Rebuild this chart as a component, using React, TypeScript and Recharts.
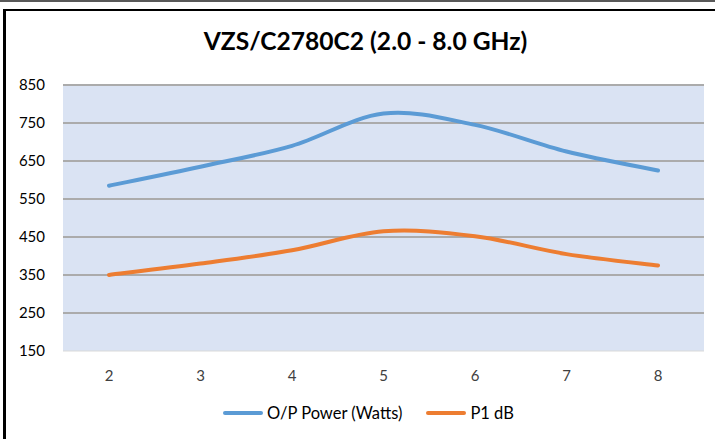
import { CartesianGrid, Line, LineChart, XAxis, YAxis } from "recharts";

const frequencies = [2, 3, 4, 5, 6, 7, 8];
const outputPower = [585, 635, 690, 775, 745, 675, 625];
const p1dB = [350, 380, 415, 465, 452, 405, 375];
const yTicks = [150, 250, 350, 450, 550, 650, 750, 850];

const SERIES = [
	{ key: "power", name: "O/P Power (Watts)", color: "#5B9BD5", values: outputPower },
	{ key: "p1db", name: "P1 dB", color: "#ED7D31", values: p1dB },
];

const FONT = "Lato, 'Open Sans', sans-serif";

// Excel-style smoothing: Catmull-Rom segments as cubic beziers
function excelSmooth(context: any) {
	let pts: number[][] = [];
	return {
		areaStart() {},
		areaEnd() {},
		lineStart() {
			pts = [];
		},
		point(x: number, y: number) {
			pts.push([+x, +y]);
		},
		lineEnd() {
			if (!pts.length) return;
			context.moveTo(pts[0][0], pts[0][1]);
			for (let i = 0; i < pts.length - 1; i++) {
				const p0 = pts[i - 1] || pts[i];
				const p1 = pts[i];
				const p2 = pts[i + 1];
				const p3 = pts[i + 2] || p2;
				context.bezierCurveTo(
					p1[0] + (p2[0] - p0[0]) / 6,
					p1[1] + (p2[1] - p0[1]) / 6,
					p2[0] - (p3[0] - p1[0]) / 6,
					p2[1] - (p3[1] - p1[1]) / 6,
					p2[0],
					p2[1],
				);
			}
		},
	};
}

const data = frequencies.map((f, i) => ({
	freq: f,
	power: outputPower[i],
	p1db: p1dB[i],
}));

export default function App() {
	return (
		<div
			style={{
				position: "relative",
				width: 715,
				height: 439,
				overflow: "hidden",
				background: "#fff",
				fontFamily: FONT,
			}}
		>
			<style>{"html,body{margin:0;padding:0;overflow:hidden}"}</style>
			<LineChart width={715} height={439} data={data} margin={{ top: 85, right: 11, bottom: 58, left: 18 }}>
				<CartesianGrid
					vertical={false}
					horizontalValues={yTicks.slice(1)}
					stroke="#ABABAB"
					strokeWidth={2}
					fill="#DAE3F3"
					fillOpacity={1}
				/>
				<XAxis
					dataKey="freq"
					type="category"
					padding={{ left: 46, right: 46 }}
					axisLine={{ stroke: "#D9D9D9", strokeWidth: 1 }}
					tickLine={false}
					tickSize={0}
					tickMargin={19}
					height={30}
					tick={{ fill: "#404040", fontSize: 15, fontFamily: FONT }}
				/>
				<YAxis
					domain={[150, 850]}
					ticks={yTicks}
					interval={0}
					axisLine={false}
					tickLine={false}
					tickSize={0}
					tickMargin={18}
					width={45}
					tick={{ fill: "#000", fontSize: 15, fontFamily: FONT }}
				/>
				{SERIES.map((s) => (
					<Line
						key={s.key}
						dataKey={s.key}
						name={s.name}
						type={excelSmooth as any}
						stroke={s.color}
						strokeWidth={4}
						strokeLinecap="round"
						dot={false}
						activeDot={false}
						isAnimationActive={false}
					/>
				))}
			</LineChart>
			<div
				style={{
					position: "absolute",
					left: 0,
					top: 26,
					width: 715,
					paddingLeft: 16,
					boxSizing: "border-box",
					textAlign: "center",
					fontSize: 24.6,
					lineHeight: "30px",
					fontWeight: 700,
					color: "#000",
					whiteSpace: "nowrap",
				}}
			>
				VZS/C2780C2 (2.0 - 8.0 GHz)
			</div>
			<div
				style={{
					position: "absolute",
					left: 223,
					top: 403,
					display: "flex",
					gap: 24,
					fontSize: 16.5,
					lineHeight: "20px",
					color: "#000",
					whiteSpace: "nowrap",
				}}
			>
				{SERIES.map((s) => (
					<div key={s.key} style={{ display: "flex", alignItems: "center" }}>
						<span
							style={{
								display: "inline-block",
								width: 40,
								height: 4,
								borderRadius: 2,
								background: s.color,
								marginRight: 4,
							}}
						/>
						<span>{s.name}</span>
					</div>
				))}
			</div>
			<div style={{ position: "absolute", left: 0, top: 0, width: 715, height: 2, background: "#595959" }} />
			<div style={{ position: "absolute", left: 3, top: 9, width: 3, height: 430, background: "#000" }} />
			<div style={{ position: "absolute", left: 3, top: 9, width: 712, height: 2, background: "#000" }} />
		</div>
	);
}
